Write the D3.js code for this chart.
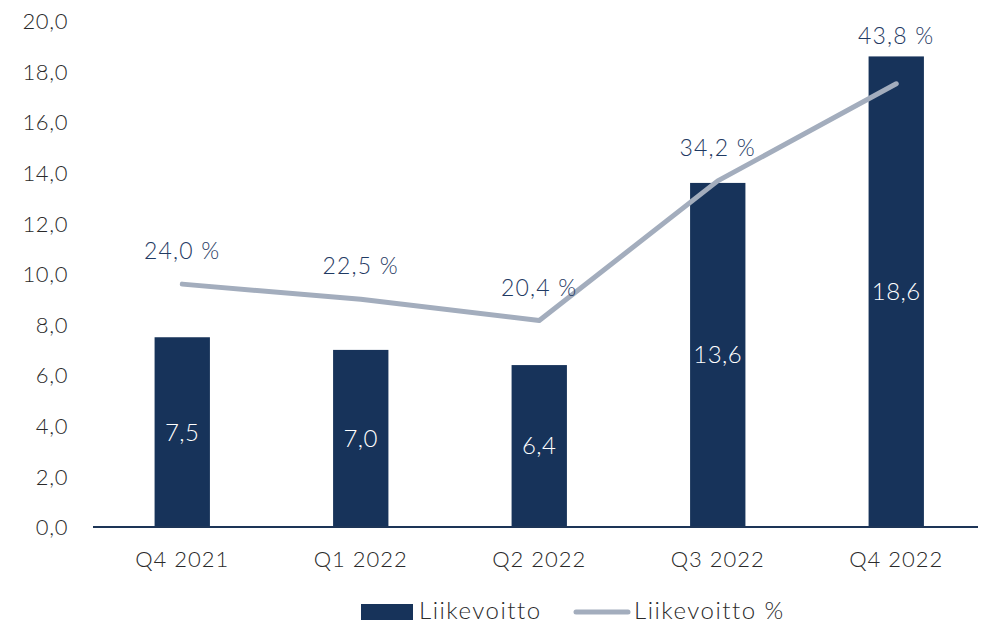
<!DOCTYPE html>
<html>
<head>
<meta charset="utf-8">
<script src="https://cdn.jsdelivr.net/npm/d3@7/dist/d3.min.js"></script>
<style>
  html, body { margin: 0; padding: 0; background: #fff; }
  svg { display: block; font-family: Lato, "Open Sans", sans-serif; font-weight: 300; }
</style>
</head>
<body>
<svg id="chart" width="981" height="623"></svg>
<script>
const categories = ["Q4 2021", "Q1 2022", "Q2 2022", "Q3 2022", "Q4 2022"];
const liikevoitto = [7.5, 7.0, 6.4, 13.6, 18.6];
const liikevoittoPct = [24.0, 22.5, 20.4, 34.2, 43.8];
const yTicks = [0, 2, 4, 6, 8, 10, 12, 14, 16, 18, 20];
const seriesNames = ["Liikevoitto", "Liikevoitto %"];

(function () {
const fmt = v => v.toFixed(1).replace(".", ",");
const barColor = "#17335a";
const lineColor = "#a3adbd";
const labelColor = "#1f3a63";
const axisText = "#2a2a2a";

const svg = d3.select("#chart");
const mLeft = 93, mRight = 985.5, mTop = 21, mBottom = 527;

const x = d3.scaleBand().domain(categories).range([mLeft, mRight]).paddingInner(0.69).paddingOuter(0.345);
const y = d3.scaleLinear().domain([0, 20]).range([mBottom, mTop]);
const y2 = d3.scaleLinear().domain([0, 50]).range([mBottom, mTop]);

// y axis labels
const yAxis = d3.axisLeft(y).tickValues(yTicks).tickFormat(fmt).tickSize(0).tickPadding(0);
const gy = svg.append("g").attr("transform", `translate(68,0)`).call(yAxis);
gy.select(".domain").remove();
gy.selectAll("text").attr("font-size", 22).attr("letter-spacing", 0.6).attr("fill", axisText)
  .attr("font-family", "Lato, sans-serif").attr("font-weight", 300).attr("dy", "0.35em");

// bars
svg.append("g").selectAll("rect").data(liikevoitto).join("rect")
  .attr("x", (d, i) => x(categories[i]))
  .attr("width", x.bandwidth())
  .attr("y", d => y(d))
  .attr("height", d => y(0) - y(d))
  .attr("fill", barColor);

// baseline / x axis
const xAxis = d3.axisBottom(x).tickSize(0).tickPadding(24);
const gx = svg.append("g").attr("transform", `translate(0,${mBottom})`).call(xAxis);
gx.select(".domain").remove();
gx.selectAll("text").attr("font-size", 22).attr("letter-spacing", 1).attr("fill", axisText)
  .attr("font-family", "Lato, sans-serif").attr("font-weight", 300).attr("dy", "0.71em");
svg.append("line").attr("x1", mLeft).attr("x2", 978).attr("y1", mBottom).attr("y2", mBottom)
  .attr("stroke", "#1d3557").attr("stroke-width", 2);

// bar labels
svg.append("g").selectAll("text").data(liikevoitto).join("text")
  .attr("x", (d, i) => x(categories[i]) + x.bandwidth() / 2)
  .attr("y", d => (y(d) + y(0)) / 2)
  .attr("dy", "0.35em")
  .attr("text-anchor", "middle")
  .attr("font-size", 24)
  .attr("letter-spacing", 0.5)
  .attr("fill", "#ffffff")
  .text(fmt);

// line
const cx = i => x(categories[i]) + x.bandwidth() / 2;
const line = d3.line().x((d, i) => cx(i)).y(d => y2(d));
svg.append("path").datum(liikevoittoPct)
  .attr("d", line)
  .attr("fill", "none")
  .attr("stroke", lineColor)
  .attr("stroke-width", 5)
  .attr("stroke-linecap", "round")
  .attr("stroke-linejoin", "round");

// line labels
svg.append("g").selectAll("text").data(liikevoittoPct).join("text")
  .attr("x", (d, i) => cx(i))
  .attr("y", (d, i) => Math.min(y2(d) - 33, y(liikevoitto[i]) - 20))
  .attr("dy", "0.35em")
  .attr("text-anchor", "middle")
  .attr("font-size", 23)
  .attr("letter-spacing", 1.2)
  .attr("fill", labelColor)
  .text(d => fmt(d) + " %");

// legend
const lg = svg.append("g");
lg.append("rect").attr("x", 361).attr("y", 604).attr("width", 52).attr("height", 16).attr("fill", barColor);
lg.append("text").attr("x", 419).attr("y", 611).attr("dy", "0.35em").attr("font-size", 24)
  .attr("letter-spacing", 1.5).attr("fill", axisText).text(seriesNames[0]);
lg.append("line").attr("x1", 576).attr("x2", 628).attr("y1", 612).attr("y2", 612)
  .attr("stroke", lineColor).attr("stroke-width", 5).attr("stroke-linecap", "round");
lg.append("text").attr("x", 634).attr("y", 611).attr("dy", "0.35em").attr("font-size", 24)
  .attr("letter-spacing", 1.5).attr("fill", axisText).text(seriesNames[1]);
})();
</script>
</body>
</html>
